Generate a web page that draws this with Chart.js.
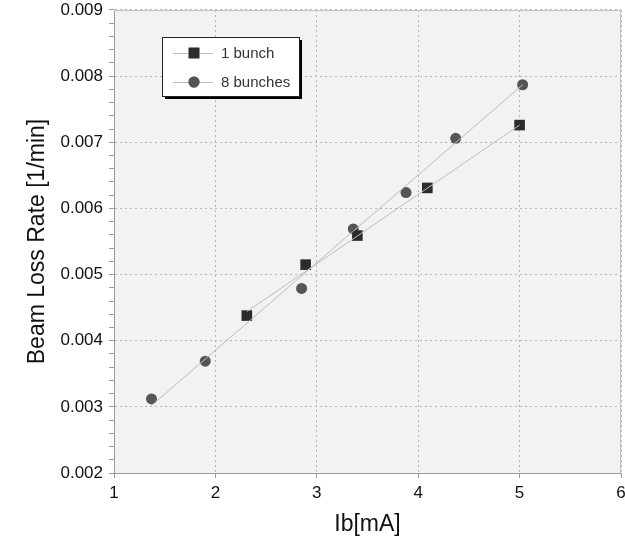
<!DOCTYPE html>
<html>
<head>
<meta charset="utf-8">
<script src="https://cdn.jsdelivr.net/npm/chart.js@4"></script>
<style>
  html, body { margin: 0; padding: 0; background: #fff; }
  #wrap { width: 625px; height: 538px; }
</style>
</head>
<body>
<div id="wrap"><canvas id="lossChart" width="625" height="538"></canvas></div>
<script>
// Measured beam loss rate vs. beam current
const bunch1X = [2.31, 2.89, 3.40, 4.09, 5.00];
const bunch1Y = [0.00438, 0.00515, 0.00559, 0.00631, 0.00726];
const bunch8X = [1.37, 1.90, 2.85, 3.36, 3.88, 4.37, 5.03];
const bunch8Y = [0.00312, 0.00369, 0.00479, 0.00569, 0.00624, 0.00706, 0.00787];

// Linear fit lines (end points)
const fit1X = [2.31, 5.00];
const fit1Y = [0.00444, 0.00726];
const fit8X = [1.37, 5.03];
const fit8Y = [0.00302, 0.00787];

const seriesNames = ['1 bunch', '8 bunches'];
const xTicks = [1, 2, 3, 4, 5, 6];
const yTickLabels = ['0.002', '0.003', '0.004', '0.005', '0.006', '0.007', '0.008', '0.009'];

const toPoints = (xs, ys) => xs.map((x, i) => ({ x: x, y: ys[i] }));
const isMajor = v => Math.abs(v * 1000 - Math.round(v * 1000)) < 1e-6;

const FONT = '"Liberation Sans", Arial, sans-serif';
const LINE = '#bdbdbd';
const SQUARE = '#2c2c2c';
const CIRCLE = '#555555';

// plot background + frame
const plotFrame = {
    id: 'plotFrame',
    beforeDraw(chart) {
        const { ctx, chartArea: a } = chart;
        ctx.save();
        ctx.fillStyle = '#f2f2f2';
        ctx.fillRect(a.left, a.top, a.right - a.left, a.bottom - a.top);
        ctx.restore();
    },
    afterDatasetsDraw(chart) {
        const { ctx, chartArea: a } = chart;
        ctx.save();
        ctx.strokeStyle = '#c4c4c4';
        ctx.lineWidth = 1;
        ctx.beginPath();
        ctx.moveTo(a.left, a.top + 0.5);
        ctx.lineTo(a.right - 0.5, a.top + 0.5);
        ctx.lineTo(a.right - 0.5, a.bottom);
        ctx.stroke();
        ctx.restore();
    }
};

// boxed legend with drop shadow, inside the plot
const boxLegend = {
    id: 'boxLegend',
    afterDraw(chart) {
        const ctx = chart.ctx;
        const x = 162, y = 37, w = 137, h = 59;
        ctx.save();
        ctx.fillStyle = '#000';
        ctx.fillRect(x + 3, y + 3, w, h);
        ctx.fillStyle = '#fff';
        ctx.fillRect(x, y, w, h);
        ctx.strokeStyle = '#222';
        ctx.lineWidth = 1;
        ctx.strokeRect(x + 0.5, y + 0.5, w, h);

        const rows = [
            { label: seriesNames[0], style: 'rect', color: SQUARE, r: 7.5, yy: y + 16 },
            { label: seriesNames[1], style: 'circle', color: CIRCLE, r: 5.5, yy: y + 45 }
        ];
        rows.forEach(row => {
            ctx.strokeStyle = LINE;
            ctx.beginPath();
            ctx.moveTo(x + 11, row.yy + 0.5);
            ctx.lineTo(x + 51, row.yy + 0.5);
            ctx.stroke();
            ctx.fillStyle = row.color;
            ctx.strokeStyle = row.color;
            Chart.helpers.drawPoint(ctx, { pointStyle: row.style, radius: row.r, rotation: 0, borderWidth: 0 }, x + 32, row.yy);
            ctx.fill();
            ctx.fillStyle = '#333';
            ctx.font = '15px ' + FONT;
            ctx.textBaseline = 'middle';
            ctx.textAlign = 'left';
            ctx.fillText(row.label, x + 59, row.yy + 1);
        });
        ctx.restore();
    }
};

new Chart(document.getElementById('lossChart'), {
    type: 'scatter',
    data: {
        datasets: [
            { label: 'fit 1', data: toPoints(fit1X, fit1Y), showLine: true, borderColor: LINE, borderWidth: 1, pointRadius: 0 },
            { label: 'fit 8', data: toPoints(fit8X, fit8Y), showLine: true, borderColor: LINE, borderWidth: 1, pointRadius: 0 },
            { label: seriesNames[0], data: toPoints(bunch1X, bunch1Y), pointStyle: 'rect', pointRadius: 7.5,
              backgroundColor: SQUARE, borderColor: SQUARE, borderWidth: 0 },
            { label: seriesNames[1], data: toPoints(bunch8X, bunch8Y), pointStyle: 'circle', pointRadius: 5.5,
              backgroundColor: CIRCLE, borderColor: CIRCLE, borderWidth: 0 }
        ]
    },
    options: {
        responsive: false,
        animation: false,
        layout: { autoPadding: false, padding: { top: 10, right: 4, left: 0, bottom: 0 } },
        plugins: { legend: { display: false }, tooltip: { enabled: false } },
        scales: {
            x: {
                type: 'linear',
                min: xTicks[0],
                max: xTicks[xTicks.length - 1],
                afterBuildTicks: s => { s.ticks = xTicks.map(v => ({ value: v })); },
                afterFit: s => { s.height = 65; s.paddingLeft = 0; s.paddingRight = 0; },
                ticks: { color: '#111', font: { family: FONT, size: 17 }, padding: 5, maxRotation: 0 },
                grid: { color: '#b5b5b5', tickColor: '#999', tickLength: 5, tickBorderDash: [] },
                border: { color: '#999', dash: [2, 3] },
                title: { display: true, text: 'Ib[mA]', color: '#111', font: { family: FONT, size: 23 }, padding: { top: 0, bottom: 0 } }
            },
            y: {
                type: 'linear',
                min: 0.002,
                max: 0.009,
                afterBuildTicks: s => {
                    const t = [];
                    for (let i = 0; i <= 35; i++) t.push({ value: 0.002 + i * 0.0002 });
                    s.ticks = t;
                },
                afterFit: s => { s.width = 114; s.paddingTop = 0; s.paddingBottom = 0; },
                ticks: {
                    color: '#111',
                    font: { family: FONT, size: 17 },
                    padding: 6,
                    autoSkip: false,
                    callback: v => isMajor(v) ? yTickLabels[Math.round(v * 1000) - 2] : ''
                },
                grid: {
                    color: c => isMajor(c.tick.value) ? '#b5b5b5' : 'rgba(0,0,0,0)',
                    tickColor: '#999',
                    tickLength: 5,
                    tickBorderDash: []
                },
                border: { color: '#999', dash: [2, 3] },
                title: { display: true, text: 'Beam Loss Rate [1/min]', color: '#111', font: { family: FONT, size: 23 }, padding: { top: 24, bottom: 0 } }
            }
        }
    },
    plugins: [plotFrame, boxLegend]
});
</script>
</body>
</html>
